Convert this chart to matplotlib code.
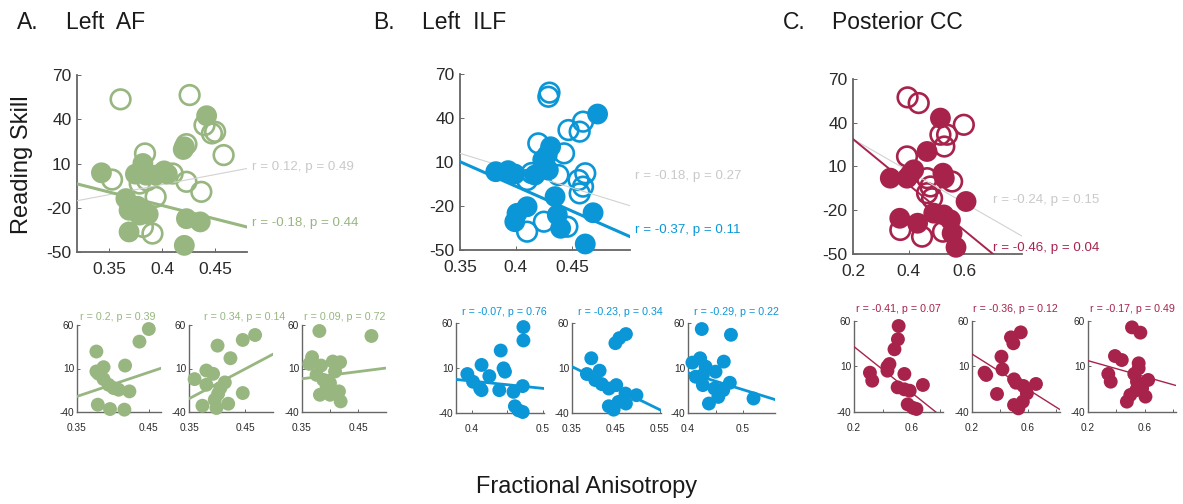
import matplotlib
matplotlib.use("Agg")
import matplotlib.pyplot as plt
import numpy as np

plt.rcParams['font.family'] = ['Liberation Sans', 'DejaVu Sans']
plt.rcParams['axes.unicode_minus'] = False

W, H = 1183, 504

GREEN = '#97B680'
BLUE = '#0A96D7'
RED = '#A8234C'
GRAY_LINE = '#D2D2D2'
GRAY_TEXT = '#C9C9C9'
SPINE = '#666666'
TICKTXT = '#2a2a2a'

# ---------------- main panels: filled / open groups ----------------
af_filled_x = [0.343, 0.442, 0.421, 0.420, 0.382, 0.375, 0.385, 0.402, 0.405, 0.394,
               0.366, 0.369, 0.379, 0.387, 0.369, 0.423, 0.436, 0.421, 0.377]
af_filled_y = [3.7, 42.4, 21.3, 19.5, 10.0, 2.8, 2.1, 5.0, 2.8, 2.1,
               -13.8, -21.7, -25.0, -24.4, -36.4, -27.4, -29.6, -45.5, -19.0]
af_open_x = [0.361, 0.426, 0.440, 0.447, 0.450, 0.458, 0.423, 0.384, 0.353, 0.379,
             0.394, 0.423, 0.437, 0.410, 0.391, 0.382, 0.386]
af_open_y = [53.5, 56.4, 36.0, 30.4, 31.5, 15.7, 23.1, 16.8, -0.9, -3.6,
             -12.6, -2.4, -9.2, 3.2, -37.5, -33.0, -1.5]
af_fit_all = (136.6, -58.96)
af_fit_grp = (-182.6, 54.6)
af_stats_all = 'r = 0.12, p = 0.49'
af_stats_grp = 'r = -0.18, p = 0.44'

ilf_filled_x = [0.382, 0.393, 0.399, 0.417, 0.425, 0.431, 0.428, 0.429, 0.473, 0.435,
                0.410, 0.401, 0.399, 0.437, 0.440, 0.469, 0.462, 0.424]
ilf_filled_y = [3.4, 4.1, 1.8, 1.1, 9.1, 20.4, 14.8, 4.5, 42.7, -13.6,
                -20.5, -25.0, -30.7, -26.1, -35.2, -24.6, -45.9, 11.5]
ilf_open_x = [0.430, 0.429, 0.460, 0.457, 0.447, 0.420, 0.443, 0.462, 0.456, 0.460,
              0.457, 0.438, 0.410, 0.425, 0.410, 0.446, 0.414]
ilf_open_y = [57.3, 54.5, 37.5, 30.7, 31.8, 22.7, 15.9, 2.3, -2.3, -6.8,
              -11.4, 1.1, -2.3, -30.7, -37.5, -34.1, 2.5]
ilf_fit_all = (-235.0, 98.15)
ilf_fit_grp = (-336.0, 127.8)
ilf_stats_all = 'r = -0.18, p = 0.27'
ilf_stats_grp = 'r = -0.37, p = 0.11'

cc_filled_x = [0.334, 0.394, 0.418, 0.466, 0.514, 0.523, 0.528, 0.606, 0.368, 0.432,
               0.490, 0.526, 0.550, 0.556, 0.570, 0.405]
cc_filled_y = [2.0, 2.0, 7.7, 20.3, 43.2, 5.4, 2.0, -14.0, -25.5, -28.9,
               -22.0, -23.2, -26.6, -35.8, -45.4, 4.5]
cc_open_x = [0.396, 0.436, 0.598, 0.514, 0.538, 0.528, 0.394, 0.466, 0.556, 0.478,
             0.466, 0.484, 0.370, 0.448, 0.523]
cc_open_y = [57.4, 53.5, 38.6, 31.8, 31.8, 23.7, 16.9, 2.0, -0.3, -3.7,
             -8.3, -11.8, -33.5, -38.1, -34.7]
cc_fit_all = (-109.6, 50.72)
cc_fit_grp = (-156.7, 60.14)
cc_stats_all = 'r = -0.24, p = 0.15'
cc_stats_grp = 'r = -0.46, p = 0.04'

# ---------------- small panels ----------------
af1_x = [0.450, 0.437, 0.377, 0.387, 0.377, 0.417, 0.387, 0.394, 0.401, 0.408,
         0.423, 0.379, 0.396, 0.416, 0.380]
af1_y = [55.4, 40.9, 29.5, 11.5, 6.6, 13.4, -2.2, -8.7, -12.5, -14.4,
         -16.3, -31.6, -36.6, -37.3, 4.0]
af1_fit = (277.0, -119.05)
af1_stats = 'r = 0.2, p = 0.39'

af2_x = [0.468, 0.446, 0.401, 0.424, 0.381, 0.393, 0.360, 0.381, 0.414, 0.406,
         0.402, 0.396, 0.446, 0.374, 0.399, 0.420]
af2_y = [48.5, 42.8, 36.3, 21.8, 7.7, 3.9, -2.2, -8.7, -6.0, -12.5,
         -19.0, -25.9, -18.2, -32.8, -35.4, -30.5]
af2_fit = (341.0, -144.05)
af2_stats = 'r = 0.34, p = 0.14'

af3_x = [0.381, 0.474, 0.368, 0.363, 0.384, 0.405, 0.418, 0.376, 0.388, 0.400,
         0.409, 0.382, 0.400, 0.416, 0.419, 0.394]
af3_y = [53.1, 47.4, 23.0, 15.3, 13.4, 18.0, 17.2, 2.7, -3.0, -6.8,
         6.6, -20.2, -20.2, -16.3, -27.8, -11.4]
af3_fit = (82.0, -30.5)
af3_stats = 'r = 0.09, p = 0.72'

ilf1_x = [0.473, 0.473, 0.441, 0.414, 0.445, 0.447, 0.394, 0.425, 0.402, 0.412,
          0.414, 0.439, 0.459, 0.472, 0.461, 0.466, 0.472]
ilf1_y = [55.5, 40.6, 29.4, 13.4, 9.6, 5.9, 3.3, 1.0, -5.3, -12.8,
          -14.6, -14.6, -16.5, -10.1, -32.5, -37.0, -38.9]
ilf1_fit = (-81.0, 27.9)
ilf1_stats = 'r = -0.07, p = 0.76'

ilf2_x = [0.473, 0.458, 0.449, 0.394, 0.384, 0.413, 0.403, 0.418, 0.434, 0.451,
          0.472, 0.497, 0.434, 0.445, 0.456, 0.473]
ilf2_y = [47.7, 43.2, 37.6, 20.8, 3.3, 7.0, -3.4, -7.9, -12.8, -9.0,
          -18.4, -20.2, -32.5, -36.3, -27.7, -29.5]
ilf2_fit = (-239.0, 95.15)
ilf2_stats = 'r = -0.23, p = 0.34'

ilf3_x = [0.425, 0.478, 0.408, 0.422, 0.432, 0.465, 0.414, 0.427, 0.450, 0.427,
          0.476, 0.448, 0.464, 0.455, 0.438, 0.519]
ilf3_y = [53.3, 46.9, 16.0, 20.8, 11.5, 17.1, 0.3, 2.2, 5.9, -9.0,
          -6.4, -12.8, -14.6, -22.1, -29.5, -23.9]
ilf3_fit = (-189.0, 80.4)
ilf3_stats = 'r = -0.29, p = 0.22'

cc1_x = [0.511, 0.506, 0.482, 0.447, 0.433, 0.433, 0.311, 0.327, 0.551, 0.504,
         0.551, 0.588, 0.680, 0.574, 0.635, 0.612]
cc1_y = [54.5, 39.9, 28.9, 12.7, 9.8, 5.4, 3.2, -5.6, 1.8, -12.9,
         -15.1, -16.6, -10.3, -31.6, -36.7, -35.5]
cc1_fit = (-126.0, 57.0)
cc1_stats = 'r = -0.41, p = 0.07'

cc2_x = [0.549, 0.479, 0.496, 0.411, 0.418, 0.290, 0.302, 0.501, 0.515, 0.568,
         0.658, 0.593, 0.379, 0.501, 0.532, 0.564]
cc2_y = [47.5, 42.0, 35.5, 20.8, 6.9, 3.2, 0.7, -4.1, -7.8, -11.4,
         -9.2, -19.5, -20.2, -32.3, -36.0, -28.6]
cc2_fit = (-96.9, 43.08)
cc2_stats = 'r = -0.36, p = 0.12'

cc3_x = [0.510, 0.569, 0.390, 0.438, 0.343, 0.360, 0.526, 0.557, 0.557, 0.624,
         0.545, 0.581, 0.605, 0.498, 0.474, 0.540]
cc3_y = [53.0, 47.2, 21.5, 17.1, 1.8, -6.7, 1.8, 13.5, 8.0, -4.8,
         -6.7, -14.0, -23.1, -21.3, -28.6, -16.0]
cc3_fit = (-44.0, 25.2)
cc3_stats = 'r = -0.17, p = 0.49'

fig = plt.figure(figsize=(W / 100, H / 100), dpi=100)


def px_axes(left, top, right, bottom):
    return fig.add_axes([left / W, 1 - bottom / H, (right - left) / W, (bottom - top) / H])


def fig_text(x, y, s, **kw):
    fig.text(x / W, 1 - y / H, s, **kw)


def style(ax, lw, size, xpad, ypad, ticklen):
    for side in ('top', 'right'):
        ax.spines[side].set_visible(False)
    for side in ('left', 'bottom'):
        ax.spines[side].set_color(SPINE)
        ax.spines[side].set_linewidth(lw)
    ax.tick_params(direction='in', length=ticklen, width=0.7, colors=SPINE,
                   labelcolor=TICKTXT, labelsize=size)
    ax.tick_params(axis='x', pad=xpad)
    ax.tick_params(axis='y', pad=ypad)
    ax.set_facecolor('none')


def main_panel(box, color, fx, fy, ox, oy, fit_all, fit_grp, xlim, xticks, xlabels,
               stats_all, stats_grp, pos_all, pos_grp, grp_lw):
    ax = px_axes(*box)
    ax.scatter(ox, oy, s=200, facecolors='none', edgecolors=color, linewidths=1.9,
               zorder=2, clip_on=False)
    xs = np.array(xlim)
    ax.plot(xs, fit_all[0] * xs + fit_all[1], color=GRAY_LINE, lw=0.8, zorder=3)
    ax.scatter(fx, fy, s=225, color=color, edgecolors='none', zorder=4, clip_on=False)
    ax.plot(xs, fit_grp[0] * xs + fit_grp[1], color=color, lw=grp_lw, zorder=5)
    ax.set_xlim(*xlim)
    ax.set_ylim(-50, 70)
    ax.set_xticks(xticks)
    ax.set_xticklabels(xlabels)
    ax.set_yticks([-50, -20, 10, 40, 70])
    style(ax, 1.3, 12.5, 7.5, 4, 3)
    fig_text(pos_all[0], pos_all[1], stats_all, color=GRAY_TEXT, fontsize=9.6,
             ha='left', va='center')
    fig_text(pos_grp[0], pos_grp[1], stats_grp, color=color, fontsize=9.6,
             ha='left', va='center')
    return ax


def small_panel(box, color, x, y, fit, xlim, xticks, xlabels, stats, title_x, title_y, lw):
    ax = px_axes(*box)
    ax.scatter(x, y, s=100, color=color, edgecolors='none', zorder=3, clip_on=False)
    xs = np.array(xlim)
    ax.plot(xs, fit[0] * xs + fit[1], color=color, lw=lw, zorder=4)
    ax.set_xlim(*xlim)
    ax.set_ylim(-40, 60)
    ax.set_xticks(xticks)
    ax.set_xticklabels(xlabels)
    ax.set_yticks([-40, 10, 60])
    style(ax, 1.0, 7.3, 8, 2, 2)
    fig_text(title_x, title_y, stats, color=color, fontsize=7.7, ha='center', va='center')
    return ax


# main scatter panels
main_panel((77, 75, 247, 252), GREEN, af_filled_x, af_filled_y, af_open_x, af_open_y,
           af_fit_all, af_fit_grp, (0.32, 0.48), [0.35, 0.4, 0.45], ['0.35', '0.4', '0.45'],
           af_stats_all, af_stats_grp, (252, 167), (252, 223), 2.2)
main_panel((460, 74, 630, 250), BLUE, ilf_filled_x, ilf_filled_y, ilf_open_x, ilf_open_y,
           ilf_fit_all, ilf_fit_grp, (0.35, 0.502), [0.35, 0.4, 0.45], ['0.35', '0.4', '0.45'],
           ilf_stats_all, ilf_stats_grp, (635, 176), (635, 230), 2.2)
main_panel((853, 79, 1022, 254), RED, cc_filled_x, cc_filled_y, cc_open_x, cc_open_y,
           cc_fit_all, cc_fit_grp, (0.2, 0.807), [0.2, 0.4, 0.6], ['0.2', '0.4', '0.6'],
           cc_stats_all, cc_stats_grp, (993, 200), (993, 248), 1.4)

# per-subgroup panels
small_panel((77, 325, 161, 412), GREEN, af1_x, af1_y, af1_fit, (0.35, 0.467),
            [0.35, 0.4, 0.45], ['0.35', '', '0.45'], af1_stats, 118, 317, 2.0)
small_panel((189, 325, 273, 412), GREEN, af2_x, af2_y, af2_fit, (0.35, 0.50),
            [0.35, 0.4, 0.45], ['0.35', '', '0.45'], af2_stats, 245, 317, 2.0)
small_panel((302, 325, 386, 412), GREEN, af3_x, af3_y, af3_fit, (0.35, 0.50),
            [0.35, 0.4, 0.45], ['0.35', '', '0.45'], af3_stats, 345, 317, 2.0)

small_panel((456, 323, 544, 413), BLUE, ilf1_x, ilf1_y, ilf1_fit, (0.378, 0.502),
            [0.4, 0.45, 0.5], ['0.4', '', '0.5'], ilf1_stats, 504, 312, 2.0)
small_panel((572, 323, 661, 413), BLUE, ilf2_x, ilf2_y, ilf2_fit, (0.35, 0.553),
            [0.35, 0.45, 0.55], ['0.35', '0.45', '0.55'], ilf2_stats, 620, 312, 2.0)
small_panel((688, 323, 775, 413), BLUE, ilf3_x, ilf3_y, ilf3_fit, (0.4, 0.558),
            [0.4, 0.45, 0.5], ['0.4', '', '0.5'], ilf3_stats, 736, 312, 2.0)

small_panel((854, 321, 943, 412), RED, cc1_x, cc1_y, cc1_fit, (0.2, 0.82),
            [0.2, 0.4, 0.6, 0.8], ['0.2', '', '0.6', ''], cc1_stats, 898, 309, 1.0)
small_panel((972, 321, 1060, 412), RED, cc2_x, cc2_y, cc2_fit, (0.2, 0.83),
            [0.2, 0.4, 0.6, 0.8], ['0.2', '', '0.6', ''], cc2_stats, 1015, 309, 1.0)
small_panel((1088, 321, 1176, 412), RED, cc3_x, cc3_y, cc3_fit, (0.2, 0.82),
            [0.2, 0.4, 0.6, 0.8], ['0.2', '', '0.6', ''], cc3_stats, 1132, 309, 1.0)

# panel headings
for letter, name, x0 in [('A.', 'Left  AF', 17), ('B.', 'Left  ILF', 373),
                         ('C.', 'Posterior CC', 783)]:
    fig_text(x0, 29, letter, fontsize=16.5, color='#1a1a1a', ha='left', va='baseline')
    fig_text(x0 + 48.5, 29, name, fontsize=16.5, color='#1a1a1a', ha='left', va='baseline')

fig_text(22, 165, 'Reading Skill', fontsize=17, rotation=90, color='#1a1a1a',
         ha='center', va='center')
fig_text(587, 487, 'Fractional Anisotropy', fontsize=17, color='#1a1a1a',
         ha='center', va='center')

fig.savefig('out.png', dpi=100, facecolor='white')
